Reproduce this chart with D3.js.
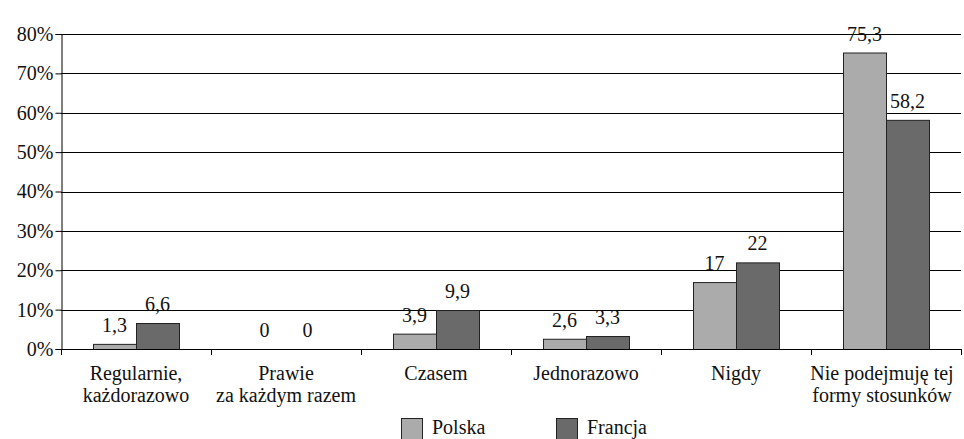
<!DOCTYPE html>
<html>
<head>
<meta charset="utf-8">
<title>Polska / Francja</title>
<style>
body { margin: 0; background: #fff; }
</style>
<script src="https://d3js.org/d3.v7.min.js"></script>
</head>
<body>
<svg id="chart" width="964" height="439"></svg>
<script>
const categories = [["Regularnie,", "każdorazowo"], ["Prawie", "za każdym razem"], ["Czasem"], ["Jednorazowo"], ["Nigdy"], ["Nie podejmuję tej", "formy stosunków"]];
const polska = [1.3, 0, 3.9, 2.6, 17, 75.3];
const francja = [6.6, 0, 9.9, 3.3, 22, 58.2];
const seriesNames = ["Polska", "Francja"];
const yTicks = [0, 10, 20, 30, 40, 50, 60, 70, 80];

const FONT = "Liberation Serif";

const svg = d3.select("#chart");
const LEFT = 61, RIGHT = 961, TOP = 34, BOTTOM = 349;
const colors = ["#ababab", "#6a6a6a"];

const x = d3.scaleBand().domain(d3.range(categories.length)).range([LEFT, RIGHT]).paddingInner(0).paddingOuter(0);
const inner = d3.scaleBand().domain([0, 1]).range([32, x.bandwidth() - 32]);
const y = d3.scaleLinear().domain([0, 80]).range([BOTTOM, TOP]);

function styleText(sel, size) {
    return sel.attr("font-family", FONT).attr("font-size", size).attr("fill", "#111");
}

// gridlines
svg.append("g").selectAll("line").data(yTicks.slice(1)).join("line")
    .attr("x1", LEFT).attr("x2", RIGHT)
    .attr("y1", d => Math.round(y(d)) + 0.5).attr("y2", d => Math.round(y(d)) + 0.5)
    .attr("stroke", "#000").attr("stroke-width", 1);

// y axis
const yAxis = d3.axisLeft(y).tickValues(yTicks).tickSize(6).tickFormat(d => d + "%");
const gy = svg.append("g").attr("transform", `translate(${LEFT + 0.5},0)`).call(yAxis);
gy.attr("font-family", null).attr("font-size", null);
gy.select(".domain").attr("stroke", "#000");
gy.selectAll(".tick line").attr("stroke", "#000");
styleText(gy.selectAll(".tick text").attr("x", -8).attr("dy", "0.32em"), "20px");

// bars
const data = categories.map((c, i) => [polska[i], francja[i]]);
const groups = svg.append("g").selectAll("g").data(data).join("g")
    .attr("transform", (d, i) => `translate(${x(i)},0)`);

groups.selectAll("rect").data(d => d).join("rect")
    .attr("x", (d, j) => inner(j) + 0.5)
    .attr("y", d => y(d) + 0.5)
    .attr("width", inner.bandwidth())
    .attr("height", d => Math.max(0, y(0) - y(d)))
    .attr("fill", (d, j) => colors[j])
    .attr("stroke", "#222").attr("stroke-width", 1)
    .style("display", d => d > 0 ? null : "none");

styleText(groups.selectAll("text.val").data(d => d).join("text")
    .attr("class", "val")
    .attr("x", (d, j) => inner(j) + inner.bandwidth() / 2)
    .attr("y", d => y(d) - 12)
    .attr("text-anchor", "middle")
    .text(d => String(d).replace(".", ",")), "20px");

// x axis
const xAxisLine = svg.append("g");
xAxisLine.append("line").attr("x1", LEFT).attr("x2", RIGHT)
    .attr("y1", BOTTOM + 0.5).attr("y2", BOTTOM + 0.5).attr("stroke", "#000");
xAxisLine.selectAll("line.tk").data(d3.range(categories.length + 1)).join("line")
    .attr("class", "tk")
    .attr("x1", i => Math.round(LEFT + i * x.step()) + 0.5).attr("x2", i => Math.round(LEFT + i * x.step()) + 0.5)
    .attr("y1", BOTTOM).attr("y2", BOTTOM + 6).attr("stroke", "#000");

styleText(svg.append("g").selectAll("text").data(categories).join("text")
    .attr("x", (d, i) => x(i) + x.bandwidth() / 2 - (i === categories.length - 1 ? 4 : 0))
    .attr("y", 380)
    .attr("text-anchor", "middle"), "20px")
    .selectAll("tspan").data(d => d).join("tspan")
    .attr("x", function () { return this.parentNode.getAttribute("x"); })
    .attr("dy", (d, k) => k === 0 ? 0 : 22)
    .text(d => d);

// legend
const legendX = [401, 556];
const legend = svg.append("g").selectAll("g").data(seriesNames).join("g")
    .attr("transform", (d, i) => `translate(${legendX[i]},418)`);
legend.append("rect").attr("x", 0.5).attr("y", 0.5).attr("width", 21).attr("height", 21)
    .attr("fill", (d, i) => colors[i]).attr("stroke", "#222");
styleText(legend.append("text").attr("x", 31).attr("y", 16).text(d => d), "20px");
</script>
</body>
</html>
